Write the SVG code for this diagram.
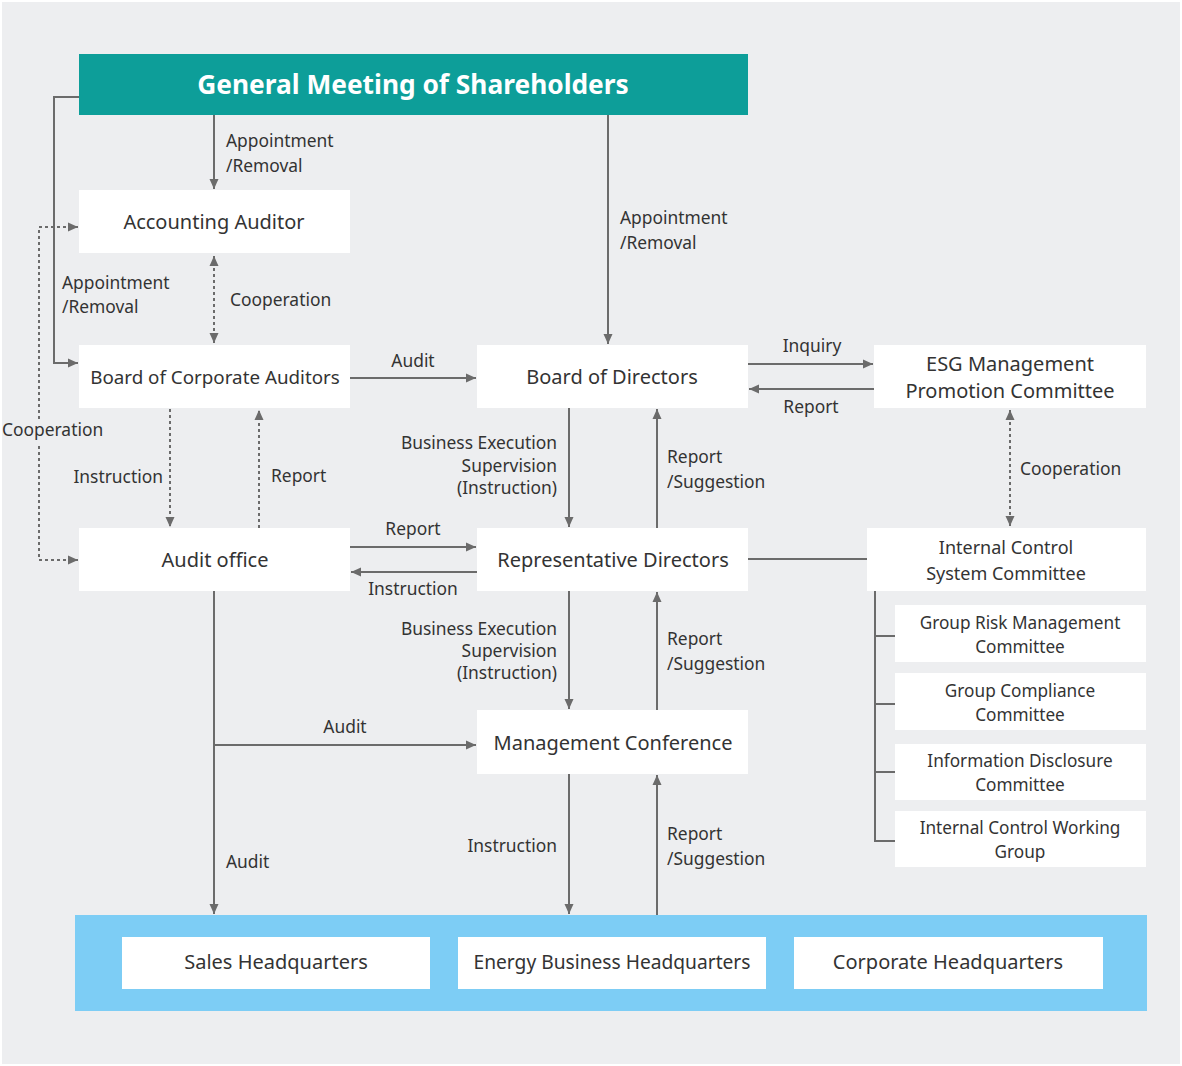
<svg xmlns="http://www.w3.org/2000/svg" width="1182" height="1066" viewBox="0 0 1182 1066">
  <defs>
    <marker id="arr" viewBox="0 0 10 10" refX="10" refY="5" markerWidth="10" markerHeight="10" markerUnits="userSpaceOnUse" orient="auto-start-reverse">
      <path d="M0,0.5 L10,5 L0,9.5 z" fill="#6b6b6b"/>
    </marker>
  </defs>
  <style>
    .box { fill: #ffffff; }
    .t { font-family: "Noto Sans", "Open Sans", sans-serif; fill: #333333; }
    .bt { font-size: 20px; text-anchor: middle; }
    .mt { font-size: 18px; text-anchor: middle; }
    .st { font-size: 17.2px; text-anchor: middle; }
    .lb { font-family: "Noto Sans", "Open Sans", sans-serif; fill: #333333; font-size: 17.4px; }
    .ln { fill: none; stroke: #6b6b6b; stroke-width: 2; }
    .dt { fill: none; stroke: #6b6b6b; stroke-width: 2; stroke-dasharray: 3 3; }
  </style>

  <!-- canvas -->
  <rect x="0" y="0" width="1182" height="1066" fill="#ffffff"/>
  <rect x="2" y="2" width="1178" height="1062" fill="#edeef0"/>

  <!-- headquarters band -->
  <rect x="75" y="915" width="1072" height="96" fill="#7dcdf5"/>

  <!-- connectors -->
  <g id="connectors">
    <!-- shareholders meeting -->
    <line class="ln" x1="214" y1="115" x2="214" y2="189" marker-end="url(#arr)"/>
    <line class="ln" x1="608" y1="115" x2="608" y2="344" marker-end="url(#arr)"/>
    <polyline class="ln" points="79,97 54,97 54,363 78,363" marker-end="url(#arr)"/>

    <!-- cooperation (dotted) -->
    <polyline class="dt" points="78,227 39,227 39,560 78,560" marker-start="url(#arr)" marker-end="url(#arr)"/>
    <line class="dt" x1="214" y1="256" x2="214" y2="343" marker-start="url(#arr)" marker-end="url(#arr)"/>
    <line class="dt" x1="1010" y1="410" x2="1010" y2="526" marker-start="url(#arr)" marker-end="url(#arr)"/>

    <!-- corporate auditors / audit office -->
    <line class="ln" x1="350" y1="378" x2="476" y2="378" marker-end="url(#arr)"/>
    <line class="dt" x1="170" y1="409" x2="170" y2="527" marker-end="url(#arr)"/>
    <line class="dt" x1="259" y1="528" x2="259" y2="410" marker-end="url(#arr)"/>
    <line class="ln" x1="350" y1="547" x2="476" y2="547" marker-end="url(#arr)"/>
    <line class="ln" x1="477" y1="572" x2="351" y2="572" marker-end="url(#arr)"/>

    <!-- directors / representative directors / conference -->
    <line class="ln" x1="569" y1="408" x2="569" y2="527" marker-end="url(#arr)"/>
    <line class="ln" x1="657" y1="528" x2="657" y2="409" marker-end="url(#arr)"/>
    <line class="ln" x1="569" y1="591" x2="569" y2="709" marker-end="url(#arr)"/>
    <line class="ln" x1="657" y1="710" x2="657" y2="592" marker-end="url(#arr)"/>
    <line class="ln" x1="569" y1="774" x2="569" y2="914" marker-end="url(#arr)"/>
    <line class="ln" x1="657" y1="915" x2="657" y2="775" marker-end="url(#arr)"/>

    <!-- ESG committee -->
    <line class="ln" x1="748" y1="364" x2="873" y2="364" marker-end="url(#arr)"/>
    <line class="ln" x1="874" y1="389" x2="749" y2="389" marker-end="url(#arr)"/>
    <line class="ln" x1="748" y1="559" x2="867" y2="559"/>

    <!-- audit office to operations -->
    <line class="ln" x1="214" y1="591" x2="214" y2="914" marker-end="url(#arr)"/>
    <line class="ln" x1="214" y1="745" x2="476" y2="745" marker-end="url(#arr)"/>

    <!-- internal control bracket -->
    <polyline class="ln" points="875,591 875,841 895,841"/>
    <line class="ln" x1="875" y1="636" x2="895" y2="636"/>
    <line class="ln" x1="875" y1="704" x2="895" y2="704"/>
    <line class="ln" x1="875" y1="772" x2="895" y2="772"/>

    <!-- labels -->
    <text class="lb" x="226" y="147">Appointment</text>
    <text class="lb" x="226" y="172">/Removal</text>
    <text class="lb" x="620" y="224">Appointment</text>
    <text class="lb" x="620" y="249">/Removal</text>
    <text class="lb" x="62" y="289">Appointment</text>
    <text class="lb" x="62" y="313">/Removal</text>
    <rect x="2" y="420" width="104" height="26" fill="#edeef0"/>
    <text class="lb" x="2" y="436">Cooperation</text>
    <text class="lb" x="230" y="306">Cooperation</text>
    <text class="lb" x="1020" y="475">Cooperation</text>
    <text class="lb" x="413" y="367" text-anchor="middle">Audit</text>
    <text class="lb" x="163" y="483" text-anchor="end">Instruction</text>
    <text class="lb" x="271" y="482">Report</text>
    <text class="lb" x="413" y="535" text-anchor="middle">Report</text>
    <text class="lb" x="413" y="595" text-anchor="middle">Instruction</text>
    <text class="lb" x="557" y="449" text-anchor="end">Business Execution</text>
    <text class="lb" x="557" y="472" text-anchor="end">Supervision</text>
    <text class="lb" x="557" y="494" text-anchor="end">(Instruction)</text>
    <text class="lb" x="667" y="463">Report</text>
    <text class="lb" x="667" y="488">/Suggestion</text>
    <text class="lb" x="557" y="635" text-anchor="end">Business Execution</text>
    <text class="lb" x="557" y="657" text-anchor="end">Supervision</text>
    <text class="lb" x="557" y="679" text-anchor="end">(Instruction)</text>
    <text class="lb" x="667" y="645">Report</text>
    <text class="lb" x="667" y="670">/Suggestion</text>
    <text class="lb" x="812" y="352" text-anchor="middle">Inquiry</text>
    <text class="lb" x="811" y="413" text-anchor="middle">Report</text>
    <text class="lb" x="345" y="733" text-anchor="middle">Audit</text>
    <text class="lb" x="226" y="868">Audit</text>
    <text class="lb" x="557" y="852" text-anchor="end">Instruction</text>
    <text class="lb" x="667" y="840">Report</text>
    <text class="lb" x="667" y="865">/Suggestion</text>
  </g>

  <!-- nodes -->
  <g id="gms">
    <rect x="79" y="54" width="669" height="61" fill="#0d9e99"/>
    <text x="413" y="94" font-family="Noto Sans, Open Sans, sans-serif" font-weight="bold" font-size="26.3" fill="#ffffff" text-anchor="middle">General Meeting of Shareholders</text>
  </g>
  <g id="accounting-auditor">
    <rect class="box" x="79" y="190" width="271" height="63"/>
    <text class="t bt" x="214" y="229">Accounting Auditor</text>
  </g>
  <g id="corporate-auditors">
    <rect class="box" x="79" y="345" width="271" height="63"/>
    <text class="t bt" x="215" y="384" style="font-size:18.8px">Board of Corporate Auditors</text>
  </g>
  <g id="audit-office">
    <rect class="box" x="79" y="528" width="271" height="63"/>
    <text class="t bt" x="215" y="567">Audit office</text>
  </g>
  <g id="board-of-directors">
    <rect class="box" x="477" y="345" width="271" height="63"/>
    <text class="t bt" x="612" y="384">Board of Directors</text>
  </g>
  <g id="representative-directors">
    <rect class="box" x="477" y="528" width="271" height="63"/>
    <text class="t bt" x="613" y="567">Representative Directors</text>
  </g>
  <g id="management-conference">
    <rect class="box" x="477" y="710" width="271" height="64"/>
    <text class="t bt" x="613" y="750">Management Conference</text>
  </g>
  <g id="esg-committee">
    <rect class="box" x="874" y="345" width="272" height="63"/>
    <text class="t bt" x="1010" y="371">ESG Management</text>
    <text class="t bt" x="1010" y="398">Promotion Committee</text>
  </g>
  <g id="internal-control-committee">
    <rect class="box" x="867" y="528" width="279" height="63"/>
    <text class="t mt" x="1006" y="554">Internal Control</text>
    <text class="t mt" x="1006" y="580">System Committee</text>
  </g>
  <g id="risk-committee">
    <rect class="box" x="895" y="605" width="251" height="57"/>
    <text class="t st" x="1020" y="629">Group Risk Management</text>
    <text class="t st" x="1020" y="653">Committee</text>
  </g>
  <g id="compliance-committee">
    <rect class="box" x="895" y="673" width="251" height="57"/>
    <text class="t st" x="1020" y="697">Group Compliance</text>
    <text class="t st" x="1020" y="721">Committee</text>
  </g>
  <g id="disclosure-committee">
    <rect class="box" x="895" y="744" width="251" height="56"/>
    <text class="t st" x="1020" y="767">Information Disclosure</text>
    <text class="t st" x="1020" y="791">Committee</text>
  </g>
  <g id="working-group">
    <rect class="box" x="895" y="811" width="251" height="56"/>
    <text class="t st" x="1020" y="834">Internal Control Working</text>
    <text class="t st" x="1020" y="858">Group</text>
  </g>
  <g id="sales-hq">
    <rect class="box" x="122" y="937" width="308" height="52"/>
    <text class="t bt" x="276" y="969">Sales Headquarters</text>
  </g>
  <g id="energy-hq">
    <rect class="box" x="458" y="937" width="308" height="52"/>
    <text class="t bt" x="612" y="969" style="font-size:19.2px">Energy Business Headquarters</text>
  </g>
  <g id="corporate-hq">
    <rect class="box" x="794" y="937" width="309" height="52"/>
    <text class="t bt" x="948" y="969">Corporate Headquarters</text>
  </g>
</svg>
